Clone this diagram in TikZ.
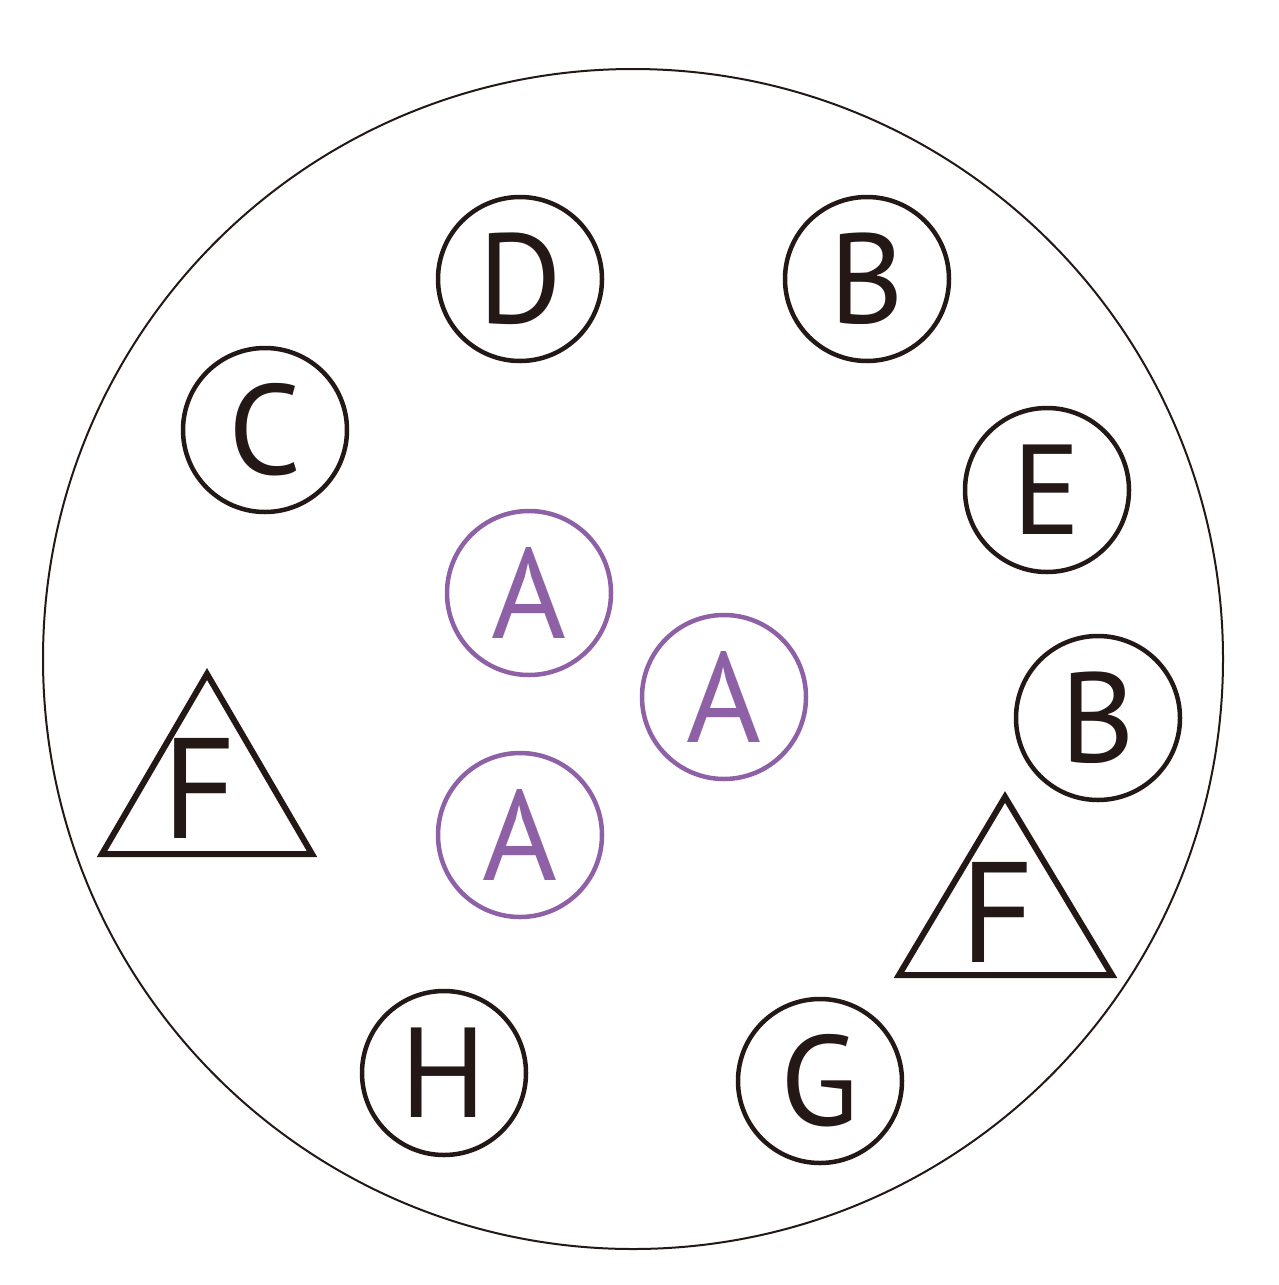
\documentclass[tikz,border=0pt]{standalone}
\usepackage{fontspec}
\setmainfont{PT Sans}
\definecolor{ink}{HTML}{231815}
\definecolor{lila}{HTML}{8E60A5}
\begin{document}
\begin{tikzpicture}[x=1pt,y=-1pt,
  ring/.style={circle,draw=ink,line width=4.5pt,minimum size=164pt,inner sep=0pt,text=ink,font=\fontsize{128}{128}\selectfont},
  aring/.style={ring,draw=lila,text=lila},
  tri/.style={draw=ink,line width=6pt,line join=miter},
  tlabel/.style={inner sep=0pt,text=ink,font=\fontsize{143}{143}\selectfont}]
\useasboundingbox (0,0) rectangle (1279,1285);
\node[circle,draw=ink,line width=2pt,minimum size=1180pt,inner sep=0pt] (outer) at (633,659) {};
\node[ring] (D) at (520,279) {D};
\node[ring] (B1) at (867,279) {B};
\node[ring] (C) at (265,430) {C};
\node[ring] (E) at (1047,490) {E};
\node[ring] (B2) at (1098,718) {B};
\node[ring] (H) at (444,1073) {H};
\node[ring] (G) at (820,1081) {G};
\node[aring] (A1) at (529,593) {A};
\node[aring] (A2) at (724,697) {A};
\node[aring] (A3) at (520,835) {A};
\coordinate (t1a) at (207,674);
\coordinate (t1b) at (102,854);
\coordinate (t1c) at (312,854);
\draw[tri] (t1a) -- (t1b) -- (t1c) -- cycle;
\node[tlabel] (F1) at (199,788) {F};
\coordinate (t2a) at (1005,797);
\coordinate (t2b) at (899,975);
\coordinate (t2c) at (1112,975);
\draw[tri] (t2a) -- (t2b) -- (t2c) -- cycle;
\node[tlabel] (F2) at (997,912) {F};
\end{tikzpicture}
\end{document}
